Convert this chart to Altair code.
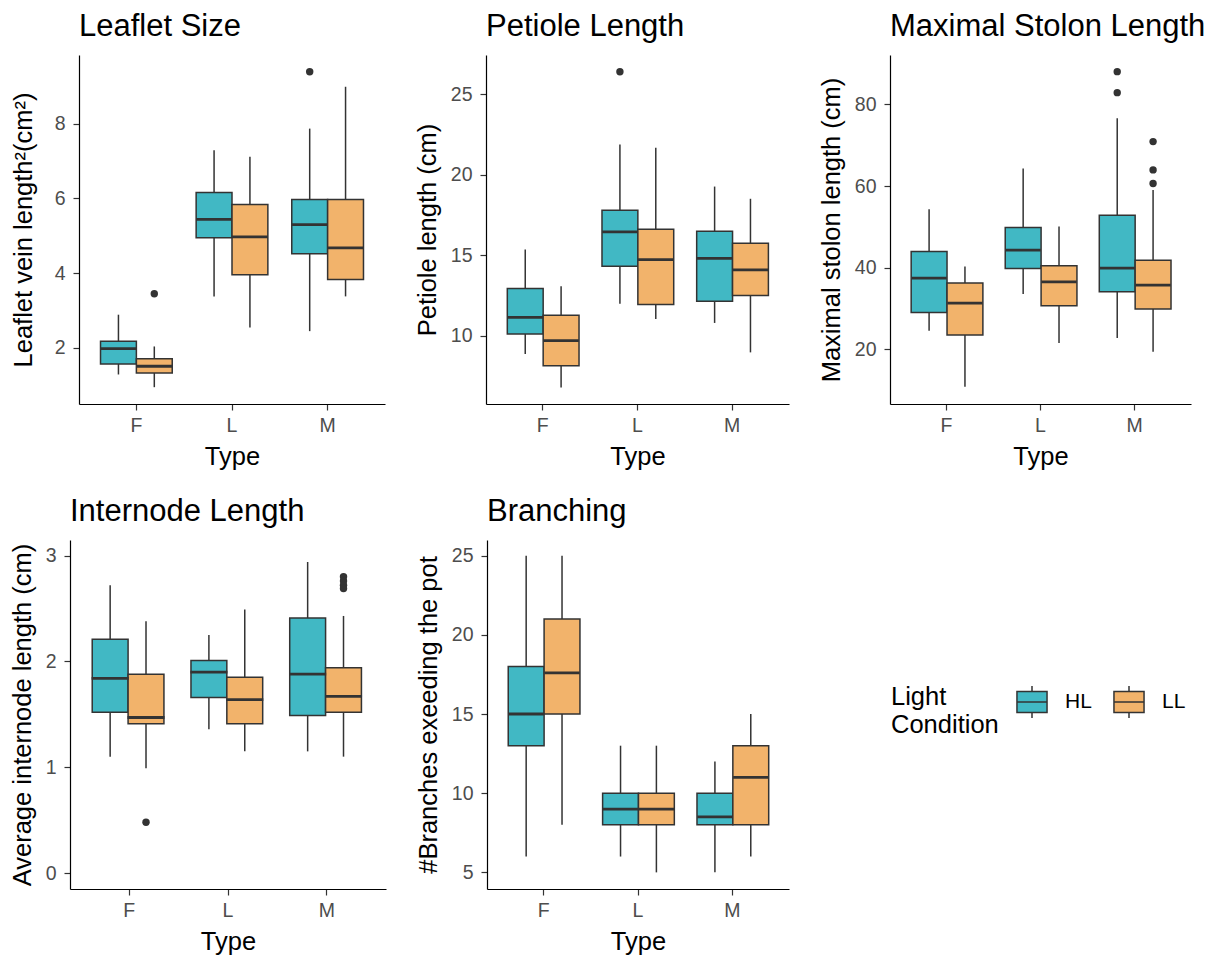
import altair as alt
import pandas as pd

TYPES = ["F", "L", "M"]
LIGHTS = ["HL", "LL"]
COLORS = ["#41B8C4", "#F2B36B"]

# group order: F-HL, F-LL, L-HL, L-LL, M-HL, M-LL
GROUP_TYPE = ["F", "F", "L", "L", "M", "M"]
GROUP_LIGHT = ["HL", "LL", "HL", "LL", "HL", "LL"]

# Leaflet Size
leaf_low = [1.29, 0.95, 3.38, 2.55, 2.45, 3.38]
leaf_q1 = [1.57, 1.33, 4.95, 3.96, 4.52, 3.83]
leaf_med = [1.98, 1.51, 5.44, 4.97, 5.30, 4.68]
leaf_q3 = [2.18, 1.71, 6.16, 5.84, 5.97, 5.97]
leaf_high = [2.89, 2.04, 7.29, 7.12, 7.87, 8.99]
leaf_out_type = ["F", "M"]
leaf_out_light = ["LL", "HL"]
leaf_out_val = [3.45, 9.39]

# Petiole Length
pet_low = [8.86, 6.78, 11.99, 11.04, 10.79, 8.96]
pet_q1 = [10.10, 8.13, 14.32, 11.93, 12.14, 12.49]
pet_med = [11.14, 9.69, 16.45, 14.73, 14.81, 14.09]
pet_q3 = [12.93, 11.27, 17.80, 16.62, 16.49, 15.75]
pet_high = [15.35, 13.07, 21.89, 21.68, 19.27, 18.51]
pet_out_type = ["L"]
pet_out_light = ["HL"]
pet_out_val = [26.41]

# Maximal Stolon Length
sto_low = [24.58, 10.89, 33.55, 21.56, 22.79, 19.45]
sto_q1 = [29.06, 23.52, 39.82, 30.69, 34.12, 29.88]
sto_med = [37.46, 31.35, 44.30, 36.56, 39.90, 35.75]
sto_q3 = [43.98, 36.24, 49.85, 40.47, 52.86, 41.86]
sto_high = [54.33, 40.31, 64.27, 50.09, 76.58, 59.05]
sto_out_type = ["M", "M", "M", "M", "M"]
sto_out_light = ["HL", "HL", "LL", "LL", "LL"]
sto_out_val = [87.99, 82.85, 70.87, 63.94, 60.60]

# Internode Length
int_low = [1.10, 0.99, 1.36, 1.15, 1.15, 1.10]
int_q1 = [1.52, 1.41, 1.66, 1.41, 1.49, 1.52]
int_med = [1.84, 1.47, 1.90, 1.64, 1.88, 1.67]
int_q3 = [2.21, 1.88, 2.01, 1.85, 2.41, 1.94]
int_high = [2.72, 2.38, 2.25, 2.49, 2.94, 2.43]
int_out_type = ["F", "M", "M", "M", "M"]
int_out_light = ["LL", "LL", "LL", "LL", "LL"]
int_out_val = [0.48, 2.80, 2.76, 2.72, 2.69]

# Branching
br_low = [6, 8, 6, 5, 5, 6]
br_q1 = [13, 15, 8, 8, 8, 8]
br_med = [15, 17.6, 9, 9, 8.5, 11]
br_q3 = [18, 21, 10, 10, 10, 13]
br_high = [25, 25, 13, 13, 12, 15]

FONT = "Liberation Sans"
DARK = "#333333"
PLOT_H = 349

BOX_PATH = ("M-0.94,-0.66 L0.94,-0.66 L0.94,0.66 L-0.94,0.66 Z "
            "M-0.94,0 L0.94,0 M0,-0.66 L0,-1 M0,0.66 L0,1")


def panel(title, ytitle, low, q1, med, q3, high, out_t, out_l, out_v,
          ydomain, yticks, width, legend=None, ytitle_pad=10, shift=0):
    # shift: plot area extends `shift` px to the left of the view origin
    df = pd.DataFrame({"Type": GROUP_TYPE, "Light": GROUP_LIGHT,
                       "low": low, "q1": q1, "med": med, "q3": q3, "high": high})
    xscale_kw = dict(domain=TYPES, paddingInner=0.25, paddingOuter=0.225)
    if shift:
        xscale_kw["range"] = [-shift, width]
    xenc = alt.X("Type:N", title="Type", scale=alt.Scale(**xscale_kw),
                 axis=alt.Axis(labelAngle=0, labelPadding=6, titlePadding=10))
    xoff = alt.XOffset("Light:N", scale=alt.Scale(domain=LIGHTS, paddingInner=0, paddingOuter=0))
    yscale = alt.Scale(domain=ydomain, nice=False, zero=False)
    yaxis_kw = dict(values=yticks, labelPadding=8, titlePadding=ytitle_pad)
    if shift:
        yaxis_kw["offset"] = shift
    yaxis = alt.Axis(**yaxis_kw)
    box_w = (width + shift) / 3.2 * 0.375

    base = alt.Chart(df)
    whisk = base.mark_rule(color=DARK, strokeWidth=1.5).encode(
        x=xenc, xOffset=xoff,
        y=alt.Y("low:Q", title=ytitle, scale=yscale, axis=yaxis), y2="high:Q")
    box = base.mark_bar(stroke=DARK, strokeWidth=1.5, opacity=1).encode(
        x=xenc, xOffset=xoff,
        y=alt.Y("q1:Q", title=ytitle, scale=yscale, axis=yaxis), y2="q3:Q",
        fill=alt.Fill("Light:N", scale=alt.Scale(domain=LIGHTS, range=COLORS),
                      legend=legend))
    medl = base.mark_tick(color=DARK, thickness=2.8, size=box_w, opacity=1).encode(
        x=xenc, xOffset=xoff,
        y=alt.Y("med:Q", title=ytitle, scale=yscale, axis=yaxis))
    layers = [whisk, box, medl]
    if out_v:
        odf = pd.DataFrame({"Type": out_t, "Light": out_l, "val": out_v})
        pts = alt.Chart(odf).mark_point(filled=True, color=DARK, size=55, opacity=1).encode(
            x=xenc, xOffset=xoff,
            y=alt.Y("val:Q", title=ytitle, scale=yscale, axis=yaxis))
        layers.append(pts)
    return alt.layer(*layers).properties(
        width=width, height=PLOT_H,
        title=alt.TitleParams(title, anchor="start", frame="group", offset=12, dx=-shift))


legend = alt.Legend(
    title=["Light", "Condition"], orient="none", legendX=404, legendY=145,
    direction="horizontal", titleOrient="left", titleAnchor="start",
    titleFontSize=25.5, titleFontWeight="normal", titleColor="black", titleFont=FONT,
    titleLineHeight=28, titleBaseline="top", titlePadding=16,
    labelFontSize=21, labelColor="black", labelFont=FONT, labelOffset=16,
    symbolType=BOX_PATH, symbolSize=1024, symbolStrokeColor=DARK,
    symbolStrokeWidth=1.5, symbolOpacity=1, columnPadding=18)

p1 = panel("Leaflet Size", "Leaflet vein length²(cm²)", leaf_low, leaf_q1, leaf_med,
           leaf_q3, leaf_high, leaf_out_type, leaf_out_light, leaf_out_val,
           [0.5, 9.84], [2, 4, 6, 8], 306, ytitle_pad=18)
p2 = panel("Petiole Length", "Petiole length (cm)", pet_low, pet_q1, pet_med,
           pet_q3, pet_high, pet_out_type, pet_out_light, pet_out_val,
           [5.75, 27.45], [10, 15, 20, 25], 303)
p3 = panel("Maximal Stolon Length", "Maximal stolon length (cm)", sto_low, sto_q1, sto_med,
           sto_q3, sto_high, sto_out_type, sto_out_light, sto_out_val,
           [6.65, 92.06], [20, 40, 60, 80], 301)
p4 = panel("Internode Length", "Average internode length (cm)", int_low, int_q1, int_med,
           int_q3, int_high, int_out_type, int_out_light, int_out_val,
           [-0.151, 3.148], [0, 1, 2, 3], 307, shift=9)
p5 = panel("Branching", "#Branches exeeding the pot", br_low, br_q1, br_med,
           br_q3, br_high, [], [], [],
           [3.95, 25.99], [5, 10, 15, 20, 25], 302, legend=legend)

row1 = alt.hconcat(p1, p2, p3, spacing=30).resolve_scale(fill="independent")
row2 = alt.hconcat(p4, p5, spacing=21).resolve_scale(fill="independent")

chart = alt.vconcat(row1, row2, spacing=26).resolve_scale(
    fill="independent"
).properties(
    padding={"left": 10, "top": 11, "right": 5, "bottom": 5}
).configure_axis(
    domainColor="black", domainWidth=1.2, tickColor=DARK, tickWidth=1.2, tickSize=6,
    labelColor="#4D4D4D", labelFontSize=19.5, labelFont=FONT,
    titleFontSize=25.5, titleFont=FONT, titleColor="black", titleFontWeight="normal",
    grid=False
).configure_view(stroke=None).configure_title(
    fontSize=31, font=FONT, fontWeight="normal", color="black"
)

chart.save("out.html", embed_options={"renderer": "svg", "actions": False})
